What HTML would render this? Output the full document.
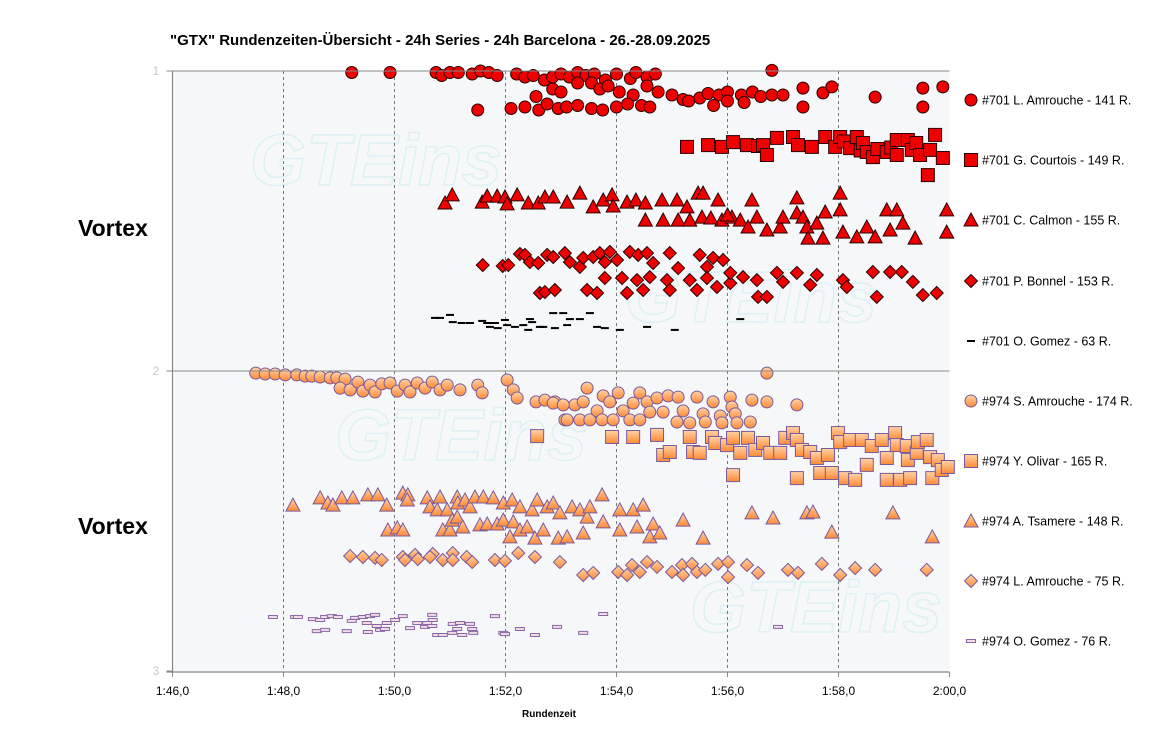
<!DOCTYPE html>
<html><head><meta charset="utf-8"><style>
html,body{margin:0;padding:0;background:#fff;}
svg{display:block;font-family:"Liberation Sans",Arial,sans-serif;}
</style></head><body>
<svg id="chart" width="1158" height="743" viewBox="0 0 1158 743" xmlns="http://www.w3.org/2000/svg">
<defs>
<linearGradient id="og" x1="0" y1="0" x2="0" y2="1"><stop offset="0" stop-color="#ffd2a6"/><stop offset="1" stop-color="#ff8a36"/></linearGradient>
</defs>
<text x="170" y="45" font-size="15" font-weight="bold" fill="#000">"GTX" Rundenzeiten-Übersicht - 24h Series - 24h Barcelona - 26.-28.09.2025</text>
<rect x="172.5" y="71" width="777" height="601" fill="#f6f7f9"/>
<g id="watermarks" font-size="72" font-style="italic" font-weight="bold" fill="none" stroke="#9fe0ea" stroke-width="1.5" opacity="0.28">
<text x="250" y="185">GTEins</text>
<text x="335" y="460">GTEins</text>
<text x="625" y="322">GTEins</text>
<text x="690" y="632">GTEins</text>
</g>
<g id="grid"></g>
<g id="marks"></g>
<g id="axes"></g>
<text x="78" y="236" font-size="23" font-weight="bold" fill="#000">Vortex</text>
<text x="78" y="534" font-size="23" font-weight="bold" fill="#000">Vortex</text>
<text x="549" y="717" font-size="10" font-weight="bold" text-anchor="middle" fill="#000">Rundenzeit</text>
<g id="legend"></g>
</svg>
<script>
const xTickLabels = ['1:46,0','1:48,0','1:50,0','1:52,0','1:54,0','1:56,0','1:58,0','2:00,0'];
const xTickValues = [106,108,110,112,114,116,118,120];
const yTickLabels = ['1','2','3'];
const yTickValues = [1,2,3];

const laps701Amrouche = [[109.23,1.005],[109.92,1.005],[110.75,1.005],[110.85,1.015],[111.0,1.005],[111.15,1.005],[111.4,1.01],[111.55,1.0],[111.7,1.005],[111.85,1.015],[112.2,1.01],[112.35,1.02],[112.5,1.015],[112.7,1.03],[112.85,1.02],[113.0,1.01],[113.15,1.02],[113.3,1.005],[113.45,1.015],[113.6,1.01],[113.8,1.03],[114.0,1.01],[114.25,1.025],[114.35,1.005],[114.55,1.02],[114.7,1.01],[116.8,0.998],
[112.55,1.085],[112.85,1.06],[113.0,1.07],[113.3,1.04],[113.55,1.04],[113.7,1.06],[113.85,1.05],[114.05,1.07],[114.3,1.08],[114.55,1.05],[114.75,1.07],[115.0,1.08],[115.2,1.095],[115.5,1.09],[115.65,1.075],[115.85,1.08],[116.0,1.07],[116.25,1.08],[116.45,1.07],[116.6,1.085],[116.8,1.08],[117.0,1.08],[117.36,1.057],[117.72,1.073],[117.88,1.053],[118.66,1.087],[119.52,1.057],[119.88,1.053],
[111.5,1.13],[112.1,1.125],[112.35,1.12],[112.6,1.13],[112.75,1.11],[112.95,1.125],[113.1,1.12],[113.3,1.115],[113.55,1.125],[113.75,1.13],[114.0,1.12],[114.2,1.11],[114.45,1.115],[114.6,1.12],[115.3,1.1],[115.75,1.115],[116.0,1.1],[116.3,1.105],[117.36,1.12],[119.52,1.12]];

const laps701Courtois = [[115.27,1.253],[115.65,1.247],[115.9,1.253],[116.1,1.237],[116.35,1.247],[116.55,1.25],[116.64,1.247],[116.71,1.28],[116.89,1.223],[117.18,1.22],[117.27,1.247],[117.52,1.253],[117.76,1.22],[117.94,1.253],[118.03,1.22],[118.1,1.235],[118.21,1.257],[118.33,1.22],[118.4,1.265],[118.44,1.24],[118.51,1.27],[118.62,1.287],[118.7,1.26],[118.87,1.27],[118.95,1.255],[119.05,1.28],[119.05,1.23],[119.25,1.23],[119.32,1.263],[119.4,1.24],[119.47,1.28],[119.65,1.263],[119.74,1.213],[119.61,1.347],[119.88,1.29]];

const laps701Calmon = [[110.91,1.44],[111.04,1.413],[111.58,1.437],[111.67,1.417],[111.85,1.417],[111.99,1.42],[112.03,1.443],[112.21,1.413],[112.41,1.44],[112.59,1.44],[112.71,1.42],[112.86,1.42],[113.11,1.437],[113.34,1.407],[113.58,1.453],[113.76,1.43],[113.92,1.413],[113.94,1.45],[114.19,1.437],[114.35,1.43],[114.52,1.44],[114.52,1.497],[114.82,1.43],[114.84,1.497],[115.09,1.43],[115.11,1.497],[115.27,1.453],[115.32,1.497],[115.47,1.407],[115.56,1.407],[115.54,1.487],[115.83,1.43],[115.9,1.497],[116.08,1.487],[116.23,1.497],[116.44,1.43],[116.37,1.52],[116.53,1.487],[116.71,1.53],[116.95,1.52],[117.0,1.487],[117.25,1.423],[117.25,1.473],[117.36,1.487],[117.43,1.52],[117.61,1.507],[117.45,1.557],[117.76,1.47],[117.72,1.557],[118.03,1.407],[118.03,1.463],[118.08,1.537],[118.33,1.553],[118.51,1.52],[118.66,1.553],[118.87,1.463],[118.93,1.53],[119.05,1.463],[119.16,1.507],[119.38,1.557],[119.95,1.463],[119.95,1.537],[115.7,1.49],[116.0,1.48]];

const laps701Bonnel = [[111.59,1.647],[111.95,1.65],[112.05,1.647],[112.26,1.61],[112.35,1.613],[112.44,1.637],[112.59,1.64],[112.75,1.613],[112.62,1.74],[112.71,1.737],[112.86,1.62],[113.07,1.607],[113.16,1.637],[113.34,1.653],[113.4,1.623],[113.58,1.62],[113.7,1.607],[113.79,1.637],[113.88,1.603],[114.01,1.63],[114.24,1.603],[114.39,1.613],[114.55,1.607],[114.66,1.64],[114.96,1.607],[115.11,1.657],[115.5,1.613],[115.63,1.653],[115.74,1.623],[115.92,1.63],
[112.89,1.73],[113.47,1.73],[113.65,1.74],[113.79,1.69],[114.1,1.69],[114.19,1.74],[114.37,1.697],[114.48,1.73],[114.6,1.687],[114.91,1.697],[114.96,1.73],[115.32,1.697],[115.45,1.73],[115.63,1.69],[115.81,1.72],[116.05,1.707],[116.05,1.673],[116.28,1.687],[116.53,1.697],[116.55,1.753],[116.71,1.753],[116.89,1.673],[117.0,1.703],[117.25,1.673],[117.49,1.713],[117.61,1.68],[118.08,1.697],[118.15,1.72],[118.62,1.67],[118.69,1.753],[118.93,1.67],[119.14,1.67],[119.34,1.703],[119.52,1.747],[119.77,1.74]];

const laps701Gomez = [[110.73,1.823],[110.82,1.823],[111.0,1.813],[111.05,1.837],[111.21,1.84],[111.36,1.84],[111.58,1.833],[111.67,1.84],[111.72,1.853],[111.81,1.84],[111.86,1.857],[111.99,1.83],[112.03,1.847],[112.17,1.853],[112.32,1.847],[112.44,1.827],[112.48,1.837],[112.41,1.863],[112.62,1.853],[112.68,1.853],[112.86,1.807],[112.89,1.857],[113.04,1.807],[113.16,1.827],[113.34,1.827],[113.52,1.807],[113.11,1.847],[113.65,1.853],[113.79,1.857],[114.06,1.863],[114.55,1.853],[115.05,1.863],[116.23,1.827]];

const laps974SAmrouche = [[107.5,2.007],[107.67,2.01],[107.85,2.01],[108.03,2.013],[108.24,2.013],[108.39,2.017],[108.51,2.017],[108.66,2.02],[108.84,2.023],[108.96,2.023],[109.11,2.027],[109.02,2.057],[109.2,2.063],[109.34,2.037],[109.43,2.067],[109.56,2.047],[109.65,2.07],[109.77,2.043],[109.92,2.04],[110.05,2.067],[110.19,2.047],[110.28,2.07],[110.41,2.04],[110.55,2.057],[110.68,2.037],[110.82,2.063],[110.95,2.047],[111.18,2.063],[111.5,2.047],[111.58,2.073],[112.03,2.03],[112.14,2.063],[112.21,2.09],[112.55,2.103],[112.71,2.097],[112.89,2.103],[113.07,2.163],[113.25,2.113],
[112.86,2.107],[113.04,2.113],[113.11,2.163],[113.34,2.163],[113.47,2.057],[113.4,2.103],[113.52,2.163],[113.65,2.133],[113.74,2.163],[113.76,2.083],[113.88,2.103],[113.94,2.163],[114.03,2.073],[114.12,2.133],[114.24,2.163],[114.3,2.107],[114.42,2.073],[114.42,2.163],[114.55,2.103],[114.6,2.137],[114.73,2.09],[114.84,2.137],[114.93,2.083],[115.09,2.17],[115.11,2.087],[115.2,2.133],[115.32,2.173],[115.45,2.087],[115.56,2.143],[115.6,2.17],[115.74,2.103],[115.87,2.15],[115.9,2.173],[116.05,2.087],[116.08,2.12],[116.14,2.143],[116.17,2.173],[116.44,2.097],[116.41,2.17],[116.71,2.007],[116.71,2.103],[117.25,2.113]];

const laps974Olivar = [[112.57,2.217],[113.92,2.22],[114.3,2.22],[114.73,2.213],[114.84,2.28],[114.96,2.27],[115.32,2.22],[115.38,2.27],[115.5,2.273],[115.72,2.22],[115.78,2.24],[115.99,2.247],[116.1,2.223],[116.1,2.347],[116.23,2.273],[116.37,2.223],[116.5,2.263],[116.64,2.24],[116.77,2.273],[116.95,2.273],[117.04,2.223],[117.18,2.207],[117.25,2.23],[117.25,2.357],[117.34,2.263],[117.49,2.27],[117.61,2.29],[117.67,2.34],[117.81,2.28],[117.88,2.34],[117.99,2.207],[118.03,2.237],[118.12,2.357],[118.21,2.23],[118.3,2.363],[118.42,2.23],[118.51,2.313],[118.6,2.25],[118.78,2.23],[118.87,2.29],[118.87,2.363],[119.02,2.207],[119.05,2.247],[119.11,2.363],[119.23,2.25],[119.25,2.297],[119.29,2.357],[119.41,2.273],[119.43,2.237],[119.59,2.23],[119.65,2.287],[119.69,2.357],[119.79,2.297],[119.86,2.33],[119.97,2.32]];

const laps974Tsamere = [[108.17,2.447],[108.66,2.423],[108.8,2.44],[108.89,2.447],[109.05,2.423],[109.25,2.423],[109.52,2.413],[109.7,2.413],[109.86,2.447],[109.88,2.53],[110.05,2.523],[110.15,2.53],[110.15,2.407],[110.24,2.413],[110.23,2.43],[110.59,2.423],[110.64,2.453],[110.77,2.463],[110.82,2.42],[110.87,2.53],[110.95,2.463],[111.0,2.53],[111.04,2.497],[111.13,2.42],[111.13,2.487],[111.14,2.44],[111.23,2.52],[111.27,2.43],[111.36,2.453],[111.45,2.42],[111.54,2.513],[111.6,2.42],[111.67,2.51],[111.78,2.423],[111.85,2.51],[111.96,2.44],[111.96,2.497],[112.08,2.553],[112.12,2.43],[112.14,2.503],[112.26,2.453],[112.26,2.53],[112.39,2.52],[112.48,2.463],[112.53,2.557],[112.57,2.43],[112.68,2.53],[112.75,2.453],[112.86,2.44],[112.98,2.473],[112.95,2.557],[113.11,2.553],[113.2,2.453],[113.34,2.463],[113.4,2.54],[113.47,2.487],[113.52,2.453],[113.74,2.413],[113.76,2.503],[114.06,2.463],[114.06,2.53],[114.3,2.463],[114.37,2.52],[114.48,2.447],[114.6,2.553],[114.66,2.51],[114.78,2.54],[115.2,2.497],[115.56,2.557],[116.44,2.473],[116.82,2.49],[117.43,2.473],[117.54,2.47],[117.88,2.537],[118.98,2.473],[119.69,2.553]];

const laps974LAmrouche = [[109.2,2.617],[109.43,2.62],[109.65,2.623],[109.77,2.63],[110.15,2.62],[110.19,2.63],[110.37,2.613],[110.42,2.627],[110.69,2.61],[110.64,2.62],[110.87,2.63],[111.05,2.607],[111.05,2.63],[111.3,2.62],[111.4,2.637],[111.81,2.63],[111.99,2.633],[112.23,2.607],[112.53,2.62],[112.98,2.637],[113.4,2.68],[113.58,2.673],[114.03,2.67],[114.19,2.68],[114.28,2.647],[114.42,2.67],[114.55,2.637],[114.73,2.653],[115.0,2.67],[115.18,2.647],[115.2,2.68],[115.36,2.643],[115.45,2.67],[115.6,2.663],[115.83,2.643],[116.01,2.637],[116.01,2.687],[116.35,2.647],[116.55,2.673],[117.09,2.663],[117.27,2.673],[117.7,2.643],[118.03,2.68],[118.3,2.657],[118.66,2.663],[119.59,2.663]];

const laps974Gomez = [[107.81,2.82],[108.21,2.82],[108.26,2.82],[108.53,2.827],[108.66,2.83],[108.6,2.867],[108.75,2.863],[108.75,2.82],[108.87,2.817],[108.98,2.82],[109.14,2.867],[109.23,2.833],[109.29,2.823],[109.43,2.82],[109.5,2.84],[109.56,2.817],[109.65,2.813],[109.52,2.87],[109.68,2.85],[109.74,2.863],[109.83,2.86],[109.86,2.84],[110.01,2.83],[110.15,2.817],[110.28,2.857],[110.41,2.84],[110.55,2.853],[110.59,2.84],[110.68,2.813],[110.69,2.83],[110.68,2.85],[110.77,2.88],[110.87,2.88],[111.05,2.843],[111.04,2.873],[111.18,2.84],[111.13,2.86],[111.22,2.88],[111.36,2.843],[111.4,2.86],[111.42,2.873],[111.81,2.817],[111.96,2.873],[111.99,2.877],[112.26,2.86],[112.53,2.88],[112.93,2.853],[113.4,2.873],[113.76,2.81],[116.91,2.853]];

const seriesNames = ['#701 L. Amrouche - 141 R.','#701 G. Courtois - 149 R.','#701 C. Calmon - 155 R.','#701 P. Bonnel - 153 R.','#701 O. Gomez - 63 R.','#974 S. Amrouche - 174 R.','#974 Y. Olivar - 165 R.','#974 A. Tsamere - 148 R.','#974 L. Amrouche - 75 R.','#974 O. Gomez - 76 R.'];

const NS='http://www.w3.org/2000/svg';
const X0=172.5, X1=949.5, Y0=71, Y1=671;
function xScale(t){return X0+(t-106)/(120-106)*(X1-X0);}
function yScale(v){return Y0+(v-1)/(3-1)*(Y1-Y0);}
function mk(tag,attrs,parent){const e=document.createElementNS(NS,tag);for(const k in attrs)e.setAttribute(k,attrs[k]);parent.appendChild(e);return e;}

const grid=document.getElementById('grid');
xTickValues.forEach((v,i)=>{
  if(i>0&&i<xTickValues.length-1){
    const l=mk('line',{x1:xScale(v),x2:xScale(v),y1:Y0,y2:Y1,stroke:'#777','stroke-width':1,'stroke-dasharray':'3,3'},grid);
    
    
  }
});
const axes=document.getElementById('axes');
const h2=mk('line',{x1:X0,x2:X1,y1:yScale(2),y2:yScale(2),stroke:'#888','stroke-width':1},axes);


const tl=mk('line',{x1:X0,x2:X1,y1:Y0,y2:Y0,stroke:'#888','stroke-width':1},axes);


const ya=mk('line',{x1:X0,x2:X0,y1:Y0,y2:Y1+1,stroke:'#888','stroke-width':1.2},axes);


const xa=mk('line',{x1:X0-6,x2:X1,y1:Y1+1,y2:Y1+1,stroke:'#888','stroke-width':1.2},axes);


yTickValues.forEach((v,i)=>{
  const t=mk('line',{x1:X0-6,x2:X0,y1:yScale(v),y2:yScale(v),stroke:'#888'},axes);
  
  
  const tx=mk('text',{x:156,y:yScale(v)+4,'font-size':12,'text-anchor':'middle',fill:'#c8c8c8'},axes);
  tx.textContent=yTickLabels[i];
  
  
});
xTickValues.forEach((v,i)=>{
  const t=mk('line',{x1:xScale(v),x2:xScale(v),y1:Y1+1,y2:Y1+6,stroke:'#888'},axes);
  
  
  const tx=mk('text',{x:xScale(v),y:695,'font-size':12,'text-anchor':'middle',fill:'#000'},axes);
  tx.textContent=xTickLabels[i];
  
  
});

const RED={fill:'#ee0000',stroke:'#2a0000'}, ORA={fill:'url(#og)',stroke:'#7a5a9c'};
function drawMarker(shape,cx,cy,st,parent){
  let e;
  if(shape==='circle') e=mk('circle',{cx:cx,cy:cy,r:6,fill:st.fill,stroke:st.stroke,'stroke-width':1},parent);
  else if(shape==='square') e=mk('rect',{x:cx-6.5,y:cy-6.5,width:13,height:13,fill:st.fill,stroke:st.stroke,'stroke-width':1},parent);
  else if(shape==='triangle') e=mk('polygon',{points:`${cx},${cy-7} ${cx+7},${cy+6} ${cx-7},${cy+6}`,fill:st.fill,stroke:st.stroke,'stroke-width':1},parent);
  else if(shape==='diamond') e=mk('polygon',{points:`${cx},${cy-6.5} ${cx+6.5},${cy} ${cx},${cy+6.5} ${cx-6.5},${cy}`,fill:st.fill,stroke:st.stroke,'stroke-width':1},parent);
  else if(shape==='dash') e=mk('rect',{x:cx-4,y:cy-1,width:8,height:2,fill:'#000'},parent);
  else if(shape==='pdash') e=mk('rect',{x:cx-4.5,y:cy-1.5,width:9,height:3,fill:'#f3dbe6',stroke:'#8a68a8','stroke-width':1},parent);
  return e;
}
const seriesData=[laps701Amrouche,laps701Courtois,laps701Calmon,laps701Bonnel,laps701Gomez,laps974SAmrouche,laps974Olivar,laps974Tsamere,laps974LAmrouche,laps974Gomez];
const shapes=['circle','square','triangle','diamond','dash','circle','square','triangle','diamond','pdash'];
const styles=[RED,RED,RED,RED,RED,ORA,ORA,ORA,ORA,ORA];
const marks=document.getElementById('marks');
const legend=document.getElementById('legend');
const legendY=[100,160,220,281,341,401,461,521,581,641];
seriesData.forEach((data,si)=>{
  const g=mk('g',{},marks);
  
  
  data.forEach(p=>{
    const m=drawMarker(shapes[si],xScale(p[0]),yScale(p[1]),styles[si],g);
    
    
  });
  const lg=mk('g',{},legend);
  
  
  drawMarker(shapes[si],971,legendY[si],styles[si],lg);
  const tx=mk('text',{x:982,y:legendY[si]+4.5,'font-size':12.5,fill:'#000'},lg);
  tx.textContent=seriesNames[si];
});
</script>
</body></html>
